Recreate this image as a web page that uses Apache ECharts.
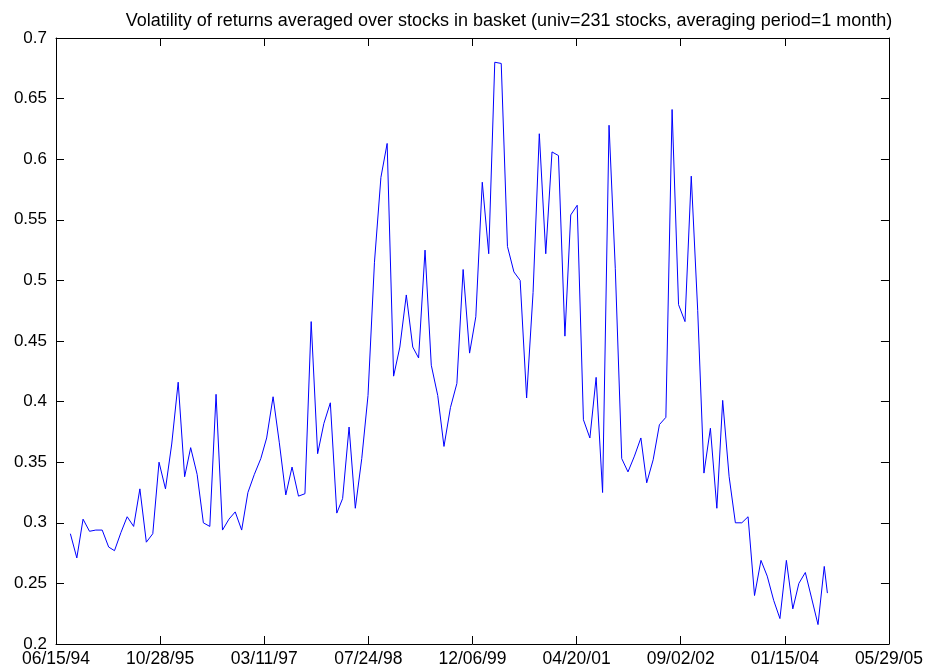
<!DOCTYPE html>
<html><head><meta charset="utf-8">
<script src="https://cdn.jsdelivr.net/npm/echarts@6/dist/echarts.min.js"></script>
<style>html,body{margin:0;padding:0;background:#fff}#c{width:926px;height:671px}</style>
</head><body><div id="c"></div>
<script>
const titleText = 'Volatility of returns averaged over stocks in basket (univ=231 stocks, averaging period=1 month)';
// x axis: days since the axis start date; 8 equal tick divisions
const axisStartDate = '1994-06-15';
const xTickIntervalDays = 500.22;
const xTickCount = 8;
// y axis
const yMin = 0.2, yMax = 0.7, yInterval = 0.05;
// observation dates: monthly (around the 23rd) from Aug 1994, final one early Aug 2004
const firstYear = 1994, firstMonthIndex = 7, obsDay = 23, monthlyCount = 120;
const finalDate = '2004-08-07';
// averaged volatility, one value per observation
const volatility = [
  0.291, 0.271, 0.303, 0.293, 0.294, 0.294, 0.280, 0.277, 0.292, 0.305,
  0.297, 0.328, 0.284, 0.291, 0.350, 0.328, 0.365, 0.416, 0.338, 0.362,
  0.340, 0.300, 0.297, 0.406, 0.294, 0.303, 0.309, 0.294, 0.325, 0.340,
  0.353, 0.370, 0.404, 0.366, 0.323, 0.346, 0.322, 0.324, 0.466, 0.357,
  0.382, 0.399, 0.308, 0.320, 0.379, 0.312, 0.353, 0.405, 0.515, 0.585,
  0.613, 0.421, 0.445, 0.488, 0.445, 0.436, 0.525, 0.430, 0.405, 0.363,
  0.395, 0.415, 0.509, 0.440, 0.470, 0.581, 0.522, 0.680, 0.679, 0.528,
  0.507, 0.500, 0.403, 0.490, 0.621, 0.522, 0.606, 0.603, 0.454, 0.554,
  0.562, 0.385, 0.370, 0.420, 0.325, 0.628, 0.510, 0.353, 0.342, 0.355,
  0.370, 0.333, 0.352, 0.381, 0.387, 0.641, 0.480, 0.466, 0.586, 0.475,
  0.341, 0.378, 0.312, 0.401, 0.338, 0.300, 0.300, 0.305, 0.240, 0.269,
  0.256, 0.236, 0.221, 0.269, 0.229, 0.250, 0.259, 0.238, 0.216, 0.264,
  0.242
];

const DAY = 86400000;
const t0 = Date.parse(axisStartDate + 'T00:00:00Z');
const xMaxDays = xTickIntervalDays * xTickCount;
const obsTimes = [];
for (let i = 0; i < monthlyCount; i++) obsTimes.push(Date.UTC(firstYear, firstMonthIndex + i, obsDay));
obsTimes.push(Date.parse(finalDate + 'T00:00:00Z'));
const seriesData = volatility.map((v, i) => [(obsTimes[i] - t0) / DAY, v]);

function fmtDate(d) {
  const dt = new Date(t0 + Math.floor(d + 1e-6) * DAY);
  const p = n => String(n).padStart(2, '0');
  return p(dt.getUTCMonth() + 1) + '/' + p(dt.getUTCDate()) + '/' + p(dt.getUTCFullYear() % 100);
}

const FONT = '"Liberation Sans", Arial, sans-serif';
const axisCommon = {
  axisLine: { show: true, onZero: false, lineStyle: { color: '#000', width: 1 } },
  axisTick: { show: true, inside: true, length: 8, lineStyle: { color: '#000', width: 1 } },
  splitLine: { show: false }
};

const chart = echarts.init(document.getElementById('c'), null, { renderer: 'canvas' });
chart.setOption({
  animation: false,
  backgroundColor: '#fff',
  title: {
    text: titleText, left: 504, top: 7, textAlign: 'center',
    textStyle: { fontFamily: FONT, fontSize: 18, fontWeight: 'normal', color: '#000' }
  },
  grid: { left: 56, top: 38, width: 836, height: 606, containLabel: false },
  xAxis: [
    Object.assign({}, axisCommon, {
      type: 'value', position: 'bottom', min: 0, max: xMaxDays, interval: xTickIntervalDays,
      axisLabel: { show: true, margin: 6, color: '#000', fontFamily: FONT, fontSize: 17.5, formatter: fmtDate, showMinLabel: true, showMaxLabel: true }
    }),
    Object.assign({}, axisCommon, {
      type: 'value', position: 'top', min: 0, max: xMaxDays, interval: xTickIntervalDays,
      axisLabel: { show: false }
    })
  ],
  yAxis: [
    Object.assign({}, axisCommon, {
      type: 'value', position: 'left', min: yMin, max: yMax, interval: yInterval,
      axisLabel: { show: true, margin: 9, color: '#000', fontFamily: FONT, fontSize: 17, formatter: v => String(+v.toFixed(2)) }
    }),
    Object.assign({}, axisCommon, {
      type: 'value', position: 'right', min: yMin, max: yMax, interval: yInterval,
      axisLabel: { show: false }
    })
  ],
  series: [{
    type: 'line', xAxisIndex: 0, yAxisIndex: 0, data: seriesData,
    showSymbol: false, symbol: 'none', clip: true,
    lineStyle: { color: '#0000ff', width: 1 }
  }]
});
</script>
</body></html>
